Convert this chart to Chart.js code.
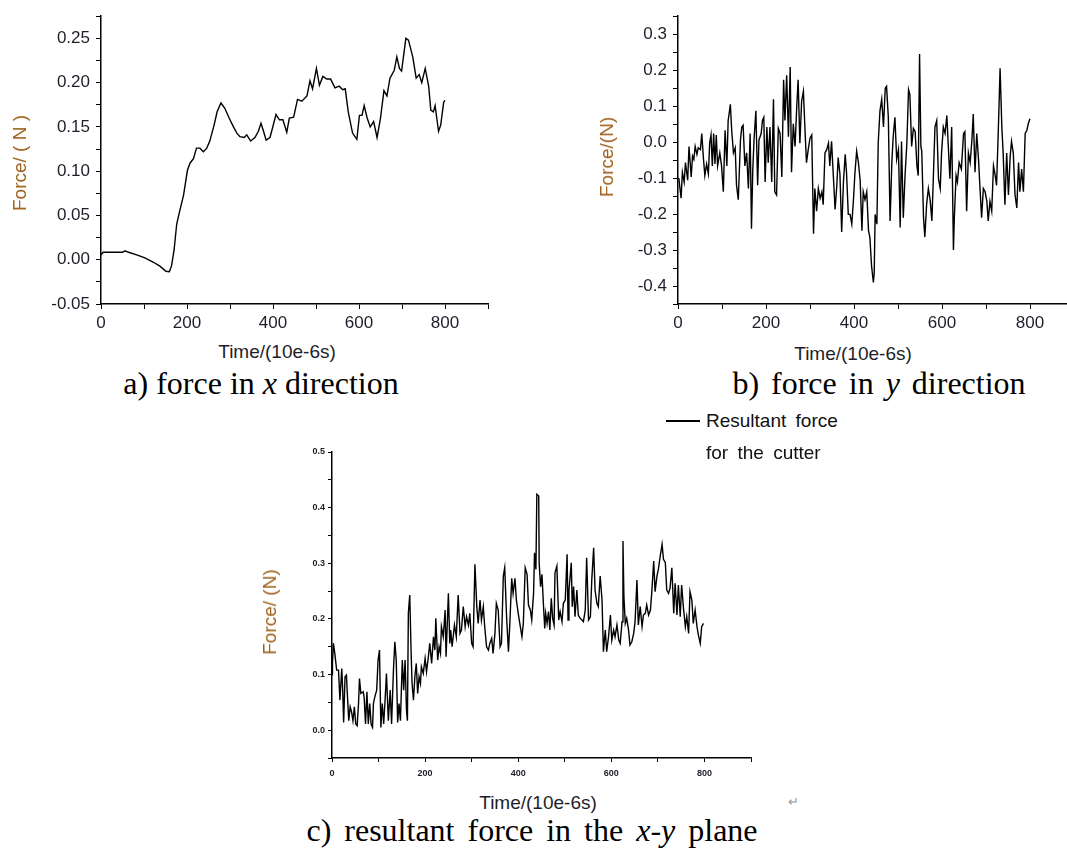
<!DOCTYPE html>
<html>
<head>
<meta charset="utf-8">
<script src="https://cdn.jsdelivr.net/npm/chart.js@4.4.1/dist/chart.umd.min.js"></script>
<style>
    body { margin: 0; background: #fff; }
    #page { position: relative; width: 1067px; height: 852px; overflow: hidden; background: #fff; }
    canvas { position: absolute; }
    .ht, .vt { position: absolute; white-space: nowrap; font-family: "Liberation Sans", Arial, sans-serif; }
    .ht { transform: translate(-50%, -50%); }
    .vt { transform: translate(-50%, -50%) rotate(-90deg); }
    .axis-title { font-size: 19px; color: #1e1e2a; }
    .force-title { font-size: 19px; color: #a0621e; }
    .caption { font-family: "Liberation Serif", "Times New Roman", serif; font-size: 32px; color: #000; }
    .legend-line { position: absolute; left: 666px; top: 420px; width: 34px; height: 2px; background: #000; }
    .legend-text { position: absolute; left: 706px; font-family: "Liberation Sans", Arial, sans-serif; font-size: 19px; word-spacing: 4px; color: #111; transform: translateY(-50%); white-space: nowrap; }
</style>
</head>
<body>
<div id="page">
    <canvas id="chartX" width="500" height="340" style="left:0;top:0"></canvas>
    <canvas id="chartY" width="500" height="340" style="left:580px;top:0"></canvas>
    <canvas id="chartR" width="520" height="340" style="left:250px;top:440px"></canvas>

    <div class="vt force-title" style="left:20px;top:163px">Force/ ( N )</div>
    <div class="ht axis-title" style="left:277px;top:352px">Time/(10e-6s)</div>
    <div class="ht caption" style="left:261px;top:383px">a) force in <i>x</i> direction</div>

    <div class="vt force-title" style="left:607px;top:157px">Force/(N)</div>
    <div class="ht axis-title" style="left:853px;top:354px">Time/(10e-6s)</div>
    <div class="ht caption" style="left:879px;top:383px;word-spacing:4px">b) force in <i>y</i> direction</div>

    <div class="legend-line"></div>
    <div class="legend-text" style="top:421px">Resultant force</div>
    <div class="legend-text" style="top:453px">for the cutter</div>

    <div class="vt force-title" style="left:270px;top:612px">Force/ (N)</div>
    <div class="ht axis-title" style="left:538px;top:803px">Time/(10e-6s)</div>
    <div class="ht" style="left:793px;top:801px;font-size:13px;color:#999">↵</div>
    <div class="ht caption" style="left:532px;top:830px;word-spacing:5px">c) resultant force in the <i>x</i>-<i>y</i> plane</div>
</div>

<script>
// a) force in x direction
const timeX = [0, 5, 50, 56, 64, 83, 102, 121, 137, 151, 159, 164, 170, 176, 182, 192, 201, 207, 215, 222,
    230, 238, 246, 253, 263, 270, 279, 288, 298, 308, 316, 323, 333, 339, 348, 358, 366, 372, 378, 384,
    393, 399, 407, 415, 423, 432, 438, 448, 457, 467, 479, 486, 492, 501, 508, 516, 525, 534, 544, 554,
    562, 568, 575, 585, 595, 601, 607, 612, 619, 626, 634, 642, 650, 658, 665, 672, 682, 688, 694, 699,
    709, 715, 725, 733, 740, 746, 754, 762, 767, 773, 777, 785, 790, 797, 800];
const forceX = [0.0055, 0.0084, 0.0084, 0.010, 0.0084, 0.0055, 0.002, -0.0026, -0.0073, -0.013, -0.0136, -0.007, 0.011, 0.040, 0.053, 0.073, 0.101, 0.109, 0.114, 0.126,
    0.126, 0.122, 0.126, 0.134, 0.152, 0.167, 0.177, 0.171, 0.160, 0.150, 0.143, 0.139, 0.138, 0.141, 0.134, 0.138, 0.145, 0.154, 0.145, 0.135,
    0.138, 0.149, 0.164, 0.158, 0.158, 0.144, 0.160, 0.161, 0.181, 0.179, 0.185, 0.202, 0.193, 0.216, 0.197, 0.207, 0.204, 0.204, 0.194, 0.196,
    0.192, 0.193, 0.167, 0.143, 0.136, 0.163, 0.163, 0.174, 0.160, 0.150, 0.156, 0.138, 0.160, 0.191, 0.185, 0.205, 0.214, 0.229, 0.216, 0.213,
    0.250, 0.248, 0.229, 0.205, 0.209, 0.200, 0.216, 0.196, 0.169, 0.167, 0.174, 0.145, 0.152, 0.178, 0.180];

// b) force in y direction
const timeY = [0, 2, 7, 10, 14, 17, 22, 25, 30, 33, 36, 39, 43, 46, 51, 54, 58, 61, 65, 69,
    72, 75, 78, 81, 84, 87, 90, 95, 99, 103, 107, 111, 114, 119, 122, 126, 130, 133, 137, 142,
    145, 148, 152, 156, 160, 164, 167, 170, 173, 177, 181, 184, 189, 192, 195, 198, 202, 205, 209, 213,
    217, 220, 224, 228, 232, 236, 240, 243, 247, 251, 255, 258, 262, 266, 270, 273, 277, 281, 285, 289,
    292, 296, 300, 304, 308, 311, 315, 319, 323, 327, 330, 334, 338, 342, 345, 349, 353, 357, 361, 364,
    368, 372, 376, 380, 383, 387, 391, 395, 399, 402, 406, 410, 414, 418, 421, 425, 429, 433, 436, 440,
    444, 446, 448, 452, 455, 459, 463, 467, 471, 474, 478, 482, 486, 489, 493, 497, 501, 505, 508, 512,
    516, 520, 524, 527, 531, 535, 539, 543, 546, 549, 552, 554, 558, 561, 565, 569, 573, 577, 580, 584,
    588, 592, 596, 599, 603, 607, 611, 614, 618, 622, 626, 628, 632, 635, 639, 644, 649, 652, 656, 660,
    664, 668, 671, 675, 679, 683, 686, 690, 694, 698, 702, 705, 709, 713, 717, 721, 724, 728, 732, 736,
    739, 743, 747, 751, 755, 758, 762, 766, 770, 774, 777, 781, 785, 789, 793, 796, 800];
const forceY = [-0.100, -0.102, -0.156, -0.084, -0.111, -0.057, -0.106, -0.012, -0.097, -0.039, -0.048, -0.012, -0.034, -0.016, -0.021, 0.024, -0.048, -0.093, -0.061, -0.088,
    -0.003, 0.020, -0.066, 0.024, -0.061, 0.020, -0.066, -0.030, -0.066, -0.138, 0.033, -0.066, 0.060, 0.105, 0.033, -0.030, -0.016, -0.120, -0.160, 0.006,
    0.042, 0.047, -0.066, -0.030, -0.129, 0.024, -0.241, -0.075, 0.011, 0.087, -0.120, 0.006, 0.024, 0.060, 0.069, -0.111, 0.042, -0.057, 0.042, -0.111,
    0.119, -0.138, -0.147, 0.038, 0.024, -0.097, 0.173, 0.060, 0.186, 0.015, 0.209, -0.084, 0.051, -0.012, 0.101, 0.173, -0.003, 0.114, 0.141, 0.024,
    -0.057, -0.021, 0.011, 0.020, -0.255, -0.129, -0.192, -0.129, -0.156, -0.138, -0.174, -0.030, -0.021, -0.003, -0.066, 0.002, -0.093, -0.187, -0.120, -0.043,
    -0.088, -0.250, -0.111, -0.034, -0.084, -0.201, -0.201, -0.228, -0.156, -0.088, -0.025, -0.057, -0.106, -0.246, -0.138, -0.160, -0.138, -0.246, -0.264, -0.345,
    -0.390, -0.363, -0.201, -0.228, -0.003, 0.087, 0.119, 0.042, 0.150, 0.155, 0.069, -0.219, -0.057, 0.015, 0.069, -0.048, -0.021, -0.237, 0.002, -0.210,
    -0.093, -0.007, 0.146, 0.132, -0.012, 0.038, 0.029, -0.066, -0.093, 0.245, -0.012, -0.025, -0.210, -0.264, -0.174, -0.129, -0.160, -0.219, -0.111, 0.042,
    0.060, -0.102, -0.129, -0.030, 0.042, 0.024, 0.074, -0.003, -0.102, 0.042, -0.300, -0.210, -0.093, -0.111, -0.057, -0.075, 0.024, 0.029, -0.192, -0.030,
    -0.057, 0.006, 0.078, -0.084, 0.024, -0.048, -0.120, -0.210, -0.129, -0.138, -0.165, -0.219, -0.165, -0.192, -0.066, -0.093, -0.120, 0.033, 0.205, 0.042,
    -0.030, -0.174, -0.030, -0.147, -0.039, 0.002, -0.030, -0.147, -0.183, -0.057, -0.138, -0.075, -0.138, 0.024, 0.033, 0.051, 0.065];

// c) resultant force in the x-y plane
const timeR = [0, 1, 3, 6, 10, 14, 17, 21, 23, 25, 28, 31, 34, 36, 39, 42, 45, 48, 51, 54,
    57, 59, 62, 67, 69, 72, 75, 78, 81, 84, 87, 89, 92, 96, 99, 102, 105, 108, 111, 114,
    117, 121, 125, 128, 132, 135, 138, 141, 144, 147, 151, 154, 157, 160, 162, 164, 167, 170, 172, 175,
    178, 181, 184, 187, 190, 192, 196, 200, 203, 207, 210, 214, 218, 221, 223, 227, 230, 233, 235, 239,
    243, 245, 250, 253, 255, 258, 263, 267, 271, 275, 278, 282, 286, 289, 293, 296, 300, 303, 307, 311,
    314, 318, 321, 325, 328, 332, 336, 339, 343, 346, 350, 353, 357, 361, 364, 368, 371, 375, 379, 382,
    386, 389, 393, 396, 400, 404, 408, 411, 415, 419, 422, 426, 429, 433, 435, 438, 440, 444, 445, 448,
    451, 454, 457, 459, 462, 465, 468, 471, 474, 477, 479, 483, 487, 490, 494, 497, 501, 505, 507, 509,
    514, 516, 519, 522, 526, 529, 533, 537, 540, 544, 547, 551, 555, 558, 562, 565, 569, 572, 576, 580,
    583, 587, 590, 594, 598, 601, 605, 608, 612, 616, 619, 623, 625, 627, 630, 633, 637, 640, 644, 648,
    651, 655, 658, 662, 666, 669, 673, 676, 680, 684, 687, 691, 694, 698, 701, 705, 709, 712, 716, 719,
    723, 726, 730, 734, 737, 741, 744, 748, 751, 755, 759, 762, 766, 769, 773, 776, 780, 784, 787, 791,
    794, 798];
const forceR = [0.100, 0.120, 0.156, 0.138, 0.108, 0.108, 0.054, 0.111, 0.072, 0.014, 0.096, 0.099, 0.048, 0.017, 0.042, 0.033, 0.017, 0.042, 0.011, 0.008,
    0.048, 0.093, 0.066, 0.069, 0.060, 0.011, 0.069, 0.011, 0.048, 0.011, 0.005, 0.048, 0.060, 0.072, 0.126, 0.144, 0.005, 0.048, 0.011, 0.054,
    0.102, 0.017, 0.072, 0.011, 0.108, 0.159, 0.126, 0.014, 0.048, 0.017, 0.126, 0.072, 0.126, 0.036, 0.017, 0.210, 0.243, 0.138, 0.084, 0.054,
    0.096, 0.120, 0.066, 0.096, 0.084, 0.114, 0.102, 0.129, 0.105, 0.132, 0.156, 0.120, 0.168, 0.144, 0.201, 0.126, 0.150, 0.138, 0.186, 0.168,
    0.216, 0.132, 0.246, 0.156, 0.180, 0.150, 0.189, 0.168, 0.243, 0.174, 0.180, 0.222, 0.186, 0.204, 0.189, 0.210, 0.156, 0.150, 0.298, 0.222,
    0.192, 0.234, 0.198, 0.222, 0.186, 0.150, 0.144, 0.156, 0.165, 0.138, 0.174, 0.228, 0.216, 0.150, 0.156, 0.277, 0.292, 0.204, 0.141, 0.192,
    0.273, 0.246, 0.273, 0.234, 0.210, 0.189, 0.168, 0.192, 0.292, 0.280, 0.225, 0.216, 0.198, 0.246, 0.319, 0.289, 0.424, 0.421, 0.301, 0.258,
    0.280, 0.228, 0.183, 0.210, 0.192, 0.213, 0.180, 0.237, 0.201, 0.189, 0.283, 0.295, 0.198, 0.213, 0.195, 0.228, 0.234, 0.316, 0.198, 0.252,
    0.301, 0.222, 0.258, 0.204, 0.252, 0.207, 0.201, 0.198, 0.195, 0.216, 0.310, 0.198, 0.204, 0.270, 0.328, 0.252, 0.228, 0.222, 0.277, 0.234,
    0.141, 0.180, 0.141, 0.168, 0.207, 0.162, 0.180, 0.168, 0.189, 0.162, 0.156, 0.195, 0.340, 0.240, 0.192, 0.201, 0.180, 0.153, 0.159, 0.174,
    0.195, 0.270, 0.189, 0.222, 0.186, 0.207, 0.210, 0.225, 0.207, 0.216, 0.249, 0.304, 0.249, 0.277, 0.289, 0.313, 0.334, 0.307, 0.301, 0.252,
    0.246, 0.255, 0.292, 0.210, 0.264, 0.207, 0.261, 0.204, 0.261, 0.219, 0.186, 0.204, 0.174, 0.249, 0.234, 0.192, 0.216, 0.186, 0.171, 0.156,
    0.186, 0.192];

const tickColor = '#1e1e2a';

// Avoid "-0.00" from float noise near zero
function fmt(v, digits) {
    return (Math.abs(v) < 1e-9 ? 0 : v).toFixed(digits);
}

function isMultiple(v, step) {
    const r = Math.abs(v / step - Math.round(v / step));
    return r < 1e-6;
}

function forceChart(id, times, forces, cfg) {
    const ctx = document.getElementById(id).getContext('2d');
    const font = { family: '"Liberation Sans", Arial, sans-serif', size: cfg.fontSize, weight: cfg.fontWeight || 'normal' };
    return new Chart(ctx, {
        type: 'line',
        data: {
            datasets: [{
                data: times.map((t, i) => ({ x: t, y: forces[i] })),
                borderColor: '#000',
                borderWidth: 1.4,
                pointRadius: 0,
                tension: 0,
                fill: false
            }]
        },
        options: {
            responsive: false,
            animation: false,
            events: [],
            layout: { padding: cfg.padding },
            plugins: {
                legend: { display: false },
                tooltip: { enabled: false }
            },
            scales: {
                x: {
                    type: 'linear',
                    min: 0,
                    max: 900,
                    afterFit: scale => { scale.height = cfg.xHeight; },
                    ticks: {
                        stepSize: 100,
                        autoSkip: false,
                        maxRotation: 0,
                        padding: cfg.xPad,
                        color: tickColor,
                        font: font,
                        callback: v => isMultiple(v, 200) && v < 900 ? String(v) : ''
                    },
                    grid: { drawOnChartArea: false, tickLength: cfg.tickLen, color: '#000', lineWidth: 1 },
                    border: { color: '#000', width: 1.5 }
                },
                y: {
                    min: cfg.yMin,
                    max: cfg.yMax,
                    afterFit: scale => { scale.width = cfg.yWidth; },
                    ticks: {
                        stepSize: cfg.yMinor,
                        autoSkip: false,
                        padding: cfg.yPad,
                        color: tickColor,
                        font: font,
                        callback: v => isMultiple(v, cfg.yMajor) && v <= cfg.yLast + 1e-9 ? fmt(v, cfg.digits) : ''
                    },
                    grid: { drawOnChartArea: false, tickLength: cfg.tickLen, color: '#000', lineWidth: 1 },
                    border: { color: '#000', width: 1.5 }
                }
            }
        }
    });
}

forceChart('chartX', timeX, forceX, {
    padding: { top: 8, right: 12, left: 0, bottom: 0 },
    yWidth: 101, xHeight: 36, tickLen: 5, xPad: 4, yPad: 6,
    fontSize: 17, yMin: -0.05, yMax: 0.275, yMinor: 0.025, yMajor: 0.05, yLast: 0.25, digits: 2
});

forceChart('chartY', timeY, forceY, {
    padding: { top: 8, right: 6, left: 0, bottom: 0 },
    yWidth: 98, xHeight: 36, tickLen: 5, xPad: 4, yPad: 6,
    fontSize: 17, yMin: -0.45, yMax: 0.35, yMinor: 0.05, yMajor: 0.1, yLast: 0.3, digits: 1
});

forceChart('chartR', timeR, forceR, {
    padding: { top: 12, right: 19, left: 0, bottom: 0 },
    yWidth: 82, xHeight: 22, tickLen: 4, xPad: 6, yPad: 3,
    fontSize: 9, fontWeight: 'bold', yMin: -0.05, yMax: 0.5, yMinor: 0.05, yMajor: 0.1, yLast: 0.5, digits: 1
});
</script>
</body>
</html>
